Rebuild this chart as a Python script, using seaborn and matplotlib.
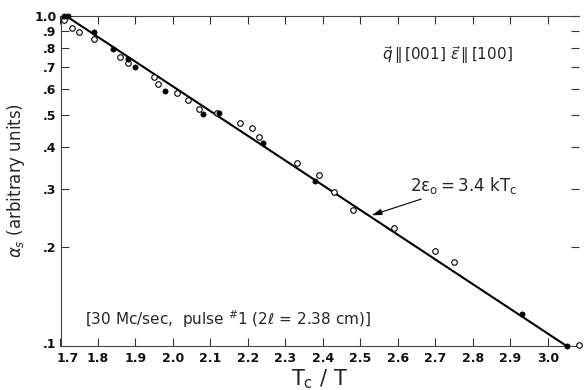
import matplotlib
matplotlib.use("Agg")
import matplotlib.pyplot as plt
import matplotlib.transforms as mtransforms
import seaborn as sns
import pandas as pd

# ---- data ----
filled_x = [1.71, 1.72, 1.79, 1.84, 1.88, 1.90, 1.98, 2.08, 2.124, 2.24, 2.38, 2.93, 3.05]
filled_y = [1.00, 1.00, 0.896, 0.792, 0.742, 0.702, 0.594, 0.505, 0.507, 0.411, 0.317, 0.125, 0.100]

open_x = [1.71, 1.73, 1.75, 1.79, 1.86, 1.88, 1.95, 1.96, 2.01, 2.04, 2.07, 2.118,
          2.18, 2.21, 2.23, 2.33, 2.39, 2.43, 2.48, 2.59, 2.70, 2.75, 3.083]
open_y = [0.972, 0.922, 0.892, 0.852, 0.753, 0.722, 0.655, 0.621, 0.583, 0.556, 0.523, 0.509,
          0.475, 0.459, 0.429, 0.358, 0.329, 0.292, 0.258, 0.228, 0.194, 0.180, 0.101]

fit_x = [1.715, 3.05]
fit_y = [1.00, 0.100]

x_ticks = [1.7, 1.8, 1.9, 2.0, 2.1, 2.2, 2.3, 2.4, 2.5, 2.6, 2.7, 2.8, 2.9, 3.0]
x_tick_labels = ["1.7", "1.8", "1.9", "2.0", "2.1", "2.2", "2.3", "2.4", "2.5",
                 "2.6", "2.7", "2.8", "2.9", "3.0"]
y_ticks = [0.1, 0.2, 0.3, 0.4, 0.5, 0.6, 0.7, 0.8, 0.9, 1.0]
y_tick_labels = [".1", ".2", ".3", ".4", ".5", ".6", ".7", ".8", ".9", "1.0"]

df_filled = pd.DataFrame({"x": filled_x, "y": filled_y})
df_open = pd.DataFrame({"x": open_x, "y": open_y})
df_fit = pd.DataFrame({"x": fit_x, "y": fit_y})

sns.set_style("ticks")
plt.rcParams["font.family"] = ["DejaVu Sans"]
plt.rcParams["mathtext.fontset"] = "dejavusans"

W, H = 584, 390
fig = plt.figure(figsize=(W / 100, H / 100), dpi=100)
left, right, top, bottom = 60.5, 579, 16, 346
ax = fig.add_axes([left / W, (H - bottom) / H, (right - left) / W, (bottom - top) / H])

sns.lineplot(data=df_fit, x="x", y="y", ax=ax, color="black", linewidth=1.5,
             sort=False, estimator=None, clip_on=False)
sns.scatterplot(data=df_open, x="x", y="y", ax=ax, marker="o", s=16,
                color="white", edgecolor="black", linewidth=0.8, clip_on=False, zorder=3)
sns.scatterplot(data=df_filled, x="x", y="y", ax=ax, marker="o", s=14,
                color="black", edgecolor="black", linewidth=0.5, clip_on=False, zorder=4)

ax.set_yscale("log")
ax.set_xlim(1.7, 3.083)
ax.set_ylim(0.1, 1.0)
ax.set_xticks(x_ticks)
ax.set_xticklabels(x_tick_labels, fontweight="bold")
ax.set_yticks(y_ticks)
ax.set_yticklabels(y_tick_labels, fontweight="bold")
ax.minorticks_off()

ax.tick_params(axis="both", direction="in", length=6, width=0.8, color="#333333",
               labelsize=9, labelcolor="#111111")
ax.tick_params(axis="x", top=True, pad=4)
ax.tick_params(axis="y", right=True, labelright=False, pad=3)
for s in ["left", "top", "bottom"]:
    ax.spines[s].set_linewidth(0.8)
    ax.spines[s].set_color("#444444")
ax.spines["right"].set_visible(False)
ax.spines["bottom"].set_bounds(1.7, 3.06)

# nudge the first x label and the ".1" label apart, as in the reference
shift_right = mtransforms.ScaledTranslation(5 / 72, 0, fig.dpi_scale_trans)
lab0 = ax.get_xticklabels()[0]
lab0.set_transform(lab0.get_transform() + shift_right)
shift_up = mtransforms.ScaledTranslation(0, 2 / 72, fig.dpi_scale_trans)
ylab0 = ax.get_yticklabels()[0]
ylab0.set_transform(ylab0.get_transform() + shift_up)

ax.set_xlabel(r"$\mathregular{T_c\ /\ T}$", fontsize=15, labelpad=2)
ax.set_ylabel(r"$\alpha_s$ (arbitrary units)", fontsize=12, labelpad=5)

ax.text(382 / W, (H - 55) / H, r"$\vec{q}\,\|\,[001]\ \vec{\epsilon}\,\|\,[100]$",
        transform=fig.transFigure, fontsize=11, ha="left", va="center")
ax.text(85 / W, (H - 319) / H, r"[30 Mc/sec,  pulse $^{\#}$1 (2$\ell$ = 2.38 cm)]",
        transform=fig.transFigure, fontsize=11, ha="left", va="center")
ax.annotate(r"$\mathregular{2\epsilon_o = 3.4\ kT_c}$", xy=(2.53, 0.249), xytext=(2.632, 0.307),
            fontsize=12, ha="left", va="center",
            arrowprops=dict(arrowstyle="-|>,head_length=0.5,head_width=0.15", lw=0.8,
                            color="black", shrinkA=0, shrinkB=0))

ax.set_facecolor("white")
fig.savefig("out.png", dpi=100, facecolor="white")
